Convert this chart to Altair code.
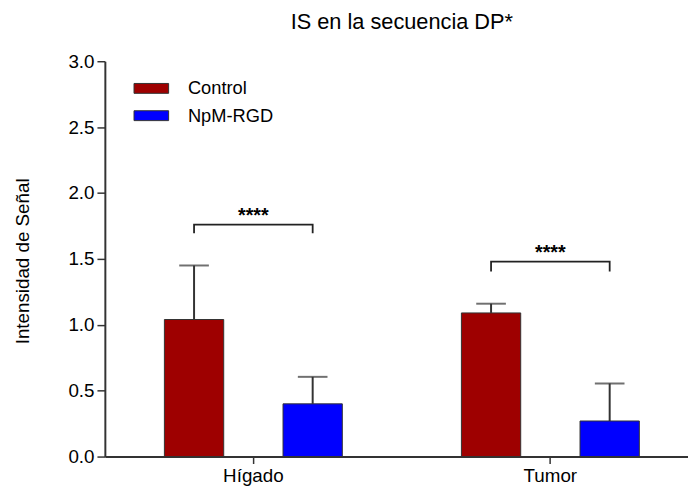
import altair as alt
import pandas as pd

categories = ["Hígado", "Tumor"]
groups = ["Control", "NpM-RGD"]
control_mean = [1.04, 1.09]
control_err = [0.41, 0.07]
npm_mean = [0.40, 0.27]
npm_err = [0.205, 0.285]
bracket_top = [1.76, 1.48]
bracket_bottom = [1.695, 1.405]
star_y = [1.86, 1.58]
star_label = ["****", "****"]
colors = ["#9E0000", "#0000FF"]
y_ticks = [0, 0.5, 1.0, 1.5, 2.0, 2.5, 3.0]

FONT = "Liberation Sans"
AX = "#333333"

rows = []
for i, c in enumerate(categories):
    rows.append(dict(cat=c, grp=groups[0], mean=control_mean[i], top=control_mean[i] + control_err[i]))
    rows.append(dict(cat=c, grp=groups[1], mean=npm_mean[i], top=npm_mean[i] + npm_err[i]))
bars_df = pd.DataFrame(rows)

br = []
for i, c in enumerate(categories):
    br += [dict(cat=c, grp=groups[0], y=bracket_bottom[i], o=0),
           dict(cat=c, grp=groups[0], y=bracket_top[i], o=1),
           dict(cat=c, grp=groups[1], y=bracket_top[i], o=2),
           dict(cat=c, grp=groups[1], y=bracket_bottom[i], o=3)]
br_df = pd.DataFrame(br)

stars_df = pd.DataFrame(dict(cat=categories, y=star_y, t=star_label))

x_enc = alt.X("cat:N", title=None,
              scale=alt.Scale(domain=categories, paddingInner=0, paddingOuter=0),
              axis=alt.Axis(labelAngle=0, labelFontSize=19, labelFont=FONT, labelColor="#000",
                            tickSize=7, tickColor=AX, tickWidth=1.5, domainColor=AX, domainWidth=2,
                            labelPadding=3))
xo_enc = alt.XOffset("grp:N", scale=alt.Scale(domain=groups, paddingInner=0.5, paddingOuter=0.502))
y_scale = alt.Scale(domain=[0, 3], nice=False)

bars = alt.Chart(bars_df).mark_bar(stroke="#333", strokeWidth=1).encode(
    x=x_enc,
    xOffset=xo_enc,
    y=alt.Y("mean:Q", scale=y_scale, title="Intensidad de Señal",
            axis=alt.Axis(values=y_ticks, format=".1f", grid=False, labelFontSize=19, labelFont=FONT,
                          labelColor="#000", tickSize=8, tickColor=AX, tickWidth=1.5, domainColor=AX,
                          domainWidth=2, labelPadding=3, titleFontSize=19, titleFont=FONT,
                          titleFontWeight="normal", titleColor="#000", titleX=-83, titleY=202,
                          titleAngle=-90, titleBaseline="middle", titleAlign="center")),
    color=alt.Color("grp:N", scale=alt.Scale(domain=groups, range=colors), title=None,
                    legend=alt.Legend(orient="none", legendX=36.5, legendY=17, padding=0,
                                      symbolType="M-1.75,-0.5L1.75,-0.5L1.75,0.5L-1.75,0.5Z",
                                      symbolSize=400, symbolStrokeColor="#333", symbolStrokeWidth=1,
                                      labelFontSize=18.5, labelFont=FONT, labelColor="#000",
                                      labelOffset=26.5, rowPadding=7.6)),
)

err = alt.Chart(bars_df).mark_rule(color="#333", strokeWidth=2).encode(
    x="cat:N", xOffset="grp:N", y=alt.Y("mean:Q"), y2="top:Q")
caps = alt.Chart(bars_df).mark_tick(color="#333", size=30, thickness=2).encode(
    x="cat:N", xOffset="grp:N", y=alt.Y("top:Q"))

brackets = alt.Chart(br_df).mark_line(color="#222", strokeWidth=1.8).encode(
    x="cat:N", xOffset="grp:N", y=alt.Y("y:Q"), detail="cat:N", order="o:Q")

stars = alt.Chart(stars_df).mark_text(fontSize=20, fontWeight="bold", font=FONT, color="#000",
                                      baseline="alphabetic", dy=11).encode(
    x="cat:N", y=alt.Y("y:Q"), text="t:N")

chart = alt.layer(bars, err, caps, brackets, stars).properties(
    width=601, height=400,
    autosize=alt.AutoSizeParams(type="none"),
    padding={"left": 98, "top": 51, "right": -11, "bottom": 33},
    title=alt.TitleParams("IS en la secuencia DP*", fontSize=22, fontWeight="normal", font=FONT,
                          color="#000", anchor="middle", frame="group", offset=19),
).configure_view(stroke=None)

chart.save("out.html", embed_options={"renderer": "svg", "actions": False})
